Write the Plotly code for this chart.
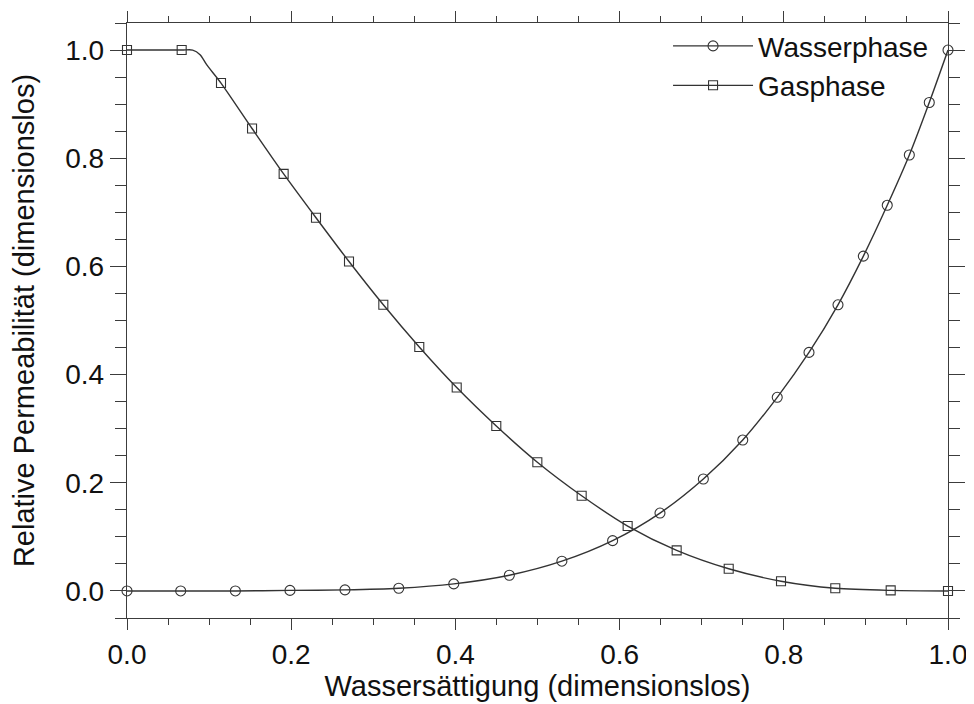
import plotly.graph_objects as go

# Water phase (circles)
water_x = [0.0, 0.0654, 0.132, 0.1985, 0.2655, 0.331, 0.398, 0.4657, 0.5297, 0.5915,
           0.6492, 0.702, 0.75, 0.792, 0.8307, 0.866, 0.8969, 0.926, 0.9529, 0.9772, 1.0]
water_y = [0.0, 0.0, 0.0, 0.001, 0.002, 0.005, 0.013, 0.029, 0.055, 0.093,
           0.144, 0.207, 0.279, 0.358, 0.441, 0.529, 0.619, 0.713, 0.806, 0.903, 1.0]

# Gas phase (squares)
gas_x = [0.0, 0.0666, 0.1145, 0.1523, 0.1908, 0.2302, 0.2704, 0.3122, 0.356, 0.4016,
         0.4498, 0.4998, 0.5538, 0.6098, 0.6695, 0.7329, 0.7966, 0.8627, 0.9302, 1.0]
gas_y = [1.0, 1.0, 0.939, 0.855, 0.771, 0.690, 0.609, 0.529, 0.451, 0.376,
         0.305, 0.238, 0.176, 0.120, 0.075, 0.041, 0.018, 0.005, 0.001, 0.0]

# extra points of the gas curve read around the bend near x = 0.09
gas_bend_x = [0.08, 0.089, 0.097]
gas_bend_y = [1.0, 0.9915, 0.973]

names = ["Wasserphase", "Gasphase"]
x_title = "Wassersättigung (dimensionslos)"
y_title = "Relative Permeabilität (dimensionslos)"
tick_vals = [0.0, 0.2, 0.4, 0.6, 0.8, 1.0]
tick_text = ["0.0", "0.2", "0.4", "0.6", "0.8", "1.0"]

LINE = "#333333"
AX = "#3c3c3c"
FONT = "Liberation Sans, Arial, Helvetica, sans-serif"

gas_curve = sorted(zip(gas_x + gas_bend_x, gas_y + gas_bend_y))
gcx = [p[0] for p in gas_curve]
gcy = [p[1] for p in gas_curve]

fig = go.Figure()
# curves
fig.add_trace(go.Scatter(x=water_x, y=water_y, mode="lines", showlegend=False,
                         line=dict(color=LINE, width=1.4, shape="spline", smoothing=0.8)))
fig.add_trace(go.Scatter(x=gcx, y=gcy, mode="lines", showlegend=False,
                         line=dict(color=LINE, width=1.4, shape="spline", smoothing=0.8)))
# markers
fig.add_trace(go.Scatter(x=water_x, y=water_y, mode="markers", showlegend=False, cliponaxis=False,
                         marker=dict(symbol="circle-open", size=10, color=LINE, line=dict(width=1.1))))
fig.add_trace(go.Scatter(x=gas_x, y=gas_y, mode="markers", showlegend=False, cliponaxis=False,
                         marker=dict(symbol="square-open", size=9, color=LINE, line=dict(width=1.1))))
# legend entries
fig.add_trace(go.Scatter(x=[None], y=[None], mode="lines+markers", name=names[0],
                         line=dict(color=LINE, width=1.3),
                         marker=dict(symbol="circle-open", size=10, color=LINE, line=dict(width=1.1))))
fig.add_trace(go.Scatter(x=[None], y=[None], mode="lines+markers", name=names[1],
                         line=dict(color=LINE, width=1.3),
                         marker=dict(symbol="square-open", size=9, color=LINE, line=dict(width=1.1))))

fig.update_layout(
    template="none",
    width=966, height=696,
    margin=dict(l=119, r=26, t=15, b=86, autoexpand=False),
    paper_bgcolor="white", plot_bgcolor="white",
    font=dict(family=FONT, size=28, color="#111111"),
    showlegend=True,
    legend=dict(x=0.659, y=1.003, xanchor="left", yanchor="top",
                bgcolor="rgba(0,0,0,0)", borderwidth=0,
                font=dict(size=28), itemwidth=80, tracegroupgap=0),
)
fig.update_xaxes(
    automargin=False,
    range=[0, 1], tickvals=tick_vals, ticktext=tick_text,
    showline=True, linecolor=AX, linewidth=1.4, mirror="ticks",
    ticks="outside", ticklen=11, tickwidth=1.3, tickcolor=AX,
    minor=dict(dtick=0.05, tick0=0, ticks="outside", ticklen=6, tickwidth=1.2, tickcolor=AX),
    showgrid=False, zeroline=False,
    tickfont=dict(size=28),
    title=dict(text=x_title, font=dict(size=29), standoff=2),
)
fig.update_yaxes(
    automargin=False,
    range=[-0.05, 1.05], tickvals=tick_vals, ticktext=tick_text,
    showline=True, linecolor=AX, linewidth=1.4, mirror="ticks",
    ticks="outside", ticklen=16, tickwidth=1.3, tickcolor=AX,
    minor=dict(dtick=0.05, tick0=0, ticks="outside", ticklen=11, tickwidth=1.2, tickcolor=AX),
    showgrid=False, zeroline=False,
    ticklabelstandoff=0,
    tickfont=dict(size=28),
    title=dict(text=y_title, font=dict(size=29), standoff=24),
)

fig.write_html("out.html")
